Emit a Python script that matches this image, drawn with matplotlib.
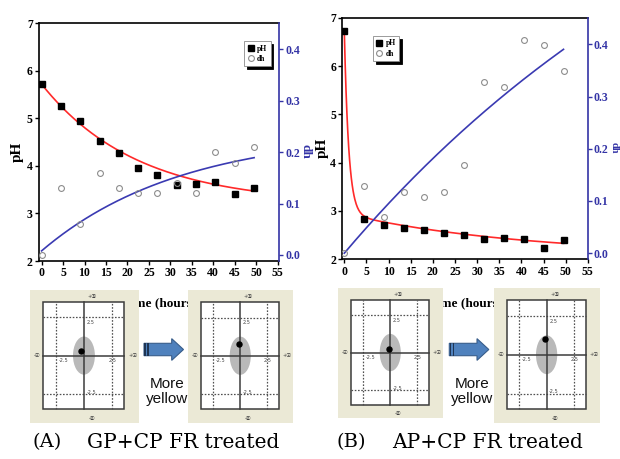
import numpy as np
import matplotlib
matplotlib.use('Agg')
import matplotlib.pyplot as plt
from matplotlib.patches import Rectangle, Ellipse, FancyArrow
from matplotlib import font_manager

# ---------------- data ----------------
time_h = [0, 4.5, 9, 13.5, 18, 22.5, 27, 31.5, 36, 40.5, 45, 49.5]
ph_A = [5.72, 5.25, 4.95, 4.52, 4.28, 3.96, 3.80, 3.59, 3.62, 3.66, 3.41, 3.54]
dh_A = [0.000, 0.130, 0.060, 0.160, 0.130, 0.120, 0.120, 0.141, 0.120, 0.200, 0.180, 0.211]
ph_B = [6.72, 2.83, 2.72, 2.65, 2.60, 2.55, 2.51, 2.42, 2.44, 2.43, 2.23, 2.40]
dh_B = [0.000, 0.129, 0.069, 0.118, 0.108, 0.118, 0.168, 0.328, 0.318, 0.408, 0.398, 0.348]

x_ticks = [0, 5, 10, 15, 20, 25, 30, 35, 40, 45, 50, 55]
ph_ticks = [2, 3, 4, 5, 6, 7]
dh_ticks = [0.0, 0.1, 0.2, 0.3, 0.4]
dh_ticklabels = ['0.0', '0.1', '0.2', '0.3', '0.4']

# fitted model parameters (as drawn in the figure)
fit_ph_A = (3.2, 2.52, 22.2)            # A + B*exp(-t/tau)
fit_dh_A = (0.008, 0.232, 32.5)          # c + D*(1-exp(-t/tau))
fit_ph_B = (2.072, 3.78, 1.0, 0.869, 40.8)  # A + B*exp(-t/t1) + C*exp(-t/t2)
fit_dh_B = (0.0, 1.0, 100.0)             # c + D*(1-exp(-t/tau))

# CIELab a*/b* colour point, before / after treatment
lab_a_A = [-0.23, -0.09]
lab_b_A = [0.28, 0.77]
lab_a_B = [-0.15, -0.15]
lab_b_B = [0.24, 1.01]

cap_tag = ['(A)', '(B)']
cap_text = ['GP+CP FR treated', 'AP+CP FR treated']

# ---------------- style ----------------
W, H = 620, 459
RED = '#ff2a2a'
BLUE = '#3a3ab2'
BLUE_AX = '#3434a6'
BEIGE = '#ebe9d6'
SERIF = ['Liberation Serif', 'DejaVu Serif']
plt.rcParams['font.family'] = SERIF
plt.rcParams['font.weight'] = 'bold'
plt.rcParams['axes.labelweight'] = 'bold'


def has_font(name):
    try:
        font_manager.findfont(font_manager.FontProperties(family=name),
                              fallback_to_default=False)
        return True
    except Exception:
        return False


NARROW = has_font('Liberation Sans Narrow')


def fbox(x0, y0, x1, y1):
    return [x0 / W, 1 - y1 / H, (x1 - x0) / W, (y1 - y0) / H]


def fpt(x, y):
    return (x / W, 1 - y / H)


fig = plt.figure(figsize=(6.2, 4.59), dpi=100)
fig.patch.set_facecolor('white')

t = np.linspace(0, 49.5, 500)


def ph_model_A(tt):
    a, b, tau = fit_ph_A
    return a + b * np.exp(-tt / tau)


def dh_model_A(tt):
    c, d, tau = fit_dh_A
    return c + d * (1 - np.exp(-tt / tau))


def ph_model_B(tt):
    a, b, t1, c, t2 = fit_ph_B
    return a + b * np.exp(-tt / t1) + c * np.exp(-tt / t2)


def dh_model_B(tt):
    c, d, tau = fit_dh_B
    return c + d * (1 - np.exp(-tt / tau))


def panel(rect, ph, dh, phf, dhf, xlim, leg_kw, lab, dh_fs, rpad):
    ax = fig.add_axes(rect)
    ax2 = ax.twinx()
    ax.plot(t, phf(t), color=RED, lw=1.2, zorder=2)
    hp, = ax.plot(time_h, ph, 's', color='black', ms=4, zorder=3)
    ax2.plot(t, dhf(t), color=BLUE, lw=1.2, zorder=2)
    hd, = ax2.plot(time_h, dh, 'o', mfc='none', mec='#8c8c8c', mew=0.8, ms=4.2, zorder=3)

    ax.set_xlim(*xlim)
    ax.set_ylim(2, 7)
    ax2.set_ylim(-0.0117, 0.451)
    ax.set_xticks(x_ticks)
    ax.set_yticks(ph_ticks)
    ax2.set_yticks(dh_ticks)
    ax2.set_yticklabels(dh_ticklabels)

    ax.tick_params(direction='out', length=3, width=1, labelsize=8.5, pad=1.5)
    ax2.tick_params(axis='y', direction='out', length=3, width=1, labelsize=8.5,
                    pad=rpad, colors=BLUE_AX)
    for lbl in ax.get_xticklabels() + ax.get_yticklabels() + ax2.get_yticklabels():
        lbl.set_fontweight('bold')

    for s in ['left', 'bottom', 'top']:
        ax.spines[s].set_linewidth(1.2)
    ax.spines['right'].set_visible(False)
    for s in ['left', 'bottom', 'top']:
        ax2.spines[s].set_visible(False)
    ax2.spines['right'].set_color(BLUE_AX)
    ax2.spines['right'].set_linewidth(1.2)

    ax.set_ylabel('pH', fontsize=11, fontweight='bold', va='center')
    ax.yaxis.set_label_coords(lab[0], 0.46)
    ax2.set_ylabel('dh', fontsize=dh_fs, fontweight='bold', color=BLUE_AX, rotation=270,
                   va='center')
    ax2.yaxis.set_label_coords(lab[1], 0.46)
    ax.set_xlabel('Time (hours)', fontsize=9.5, fontweight='bold')
    ax.xaxis.set_label_coords(0.5, lab[2])

    leg = ax2.legend([hp, hd], ['pH', 'dh'], fontsize=5.5, frameon=True,
                     fancybox=False, shadow={'color': 'black', 'alpha': 1.0},
                     handlelength=0.7, handletextpad=0.5, borderpad=0.45,
                     labelspacing=0.3, borderaxespad=0, **leg_kw)
    leg.get_frame().set_edgecolor('#8a8a8a')
    leg.get_frame().set_linewidth(0.6)
    return ax, ax2


panel(fbox(39, 23.3, 279, 261), ph_A, dh_A, ph_model_A, dh_model_A, (-0.6, 55.3),
      dict(loc='upper right', bbox_to_anchor=(0.965, 0.925)), (-0.092, 1.11, -0.151),
      9.5, 1.5)
panel(fbox(342.3, 17.7, 588.3, 259.3), ph_B, dh_B, ph_model_B, dh_model_B, (-0.45, 55.1),
      dict(loc='upper left', bbox_to_anchor=(0.125, 0.925)), (-0.082, 1.1045, -0.156),
      7.5, 1.0)

# ---------------- CIELab insets ----------------
SYM = ['DejaVu Sans', 'Noto Sans CJK JP']
GR = '#3c3c3c'


def inset(box, a_pt, b_pt):
    axi = fig.add_axes(fbox(*box))
    axi.set_xlim(-4.8, 4.9)
    axi.set_ylim(-4.4, 4.3)
    axi.set_facecolor(BEIGE)
    axi.set_xticks([])
    axi.set_yticks([])
    for s in axi.spines.values():
        s.set_visible(False)
    axi.add_patch(Rectangle((-3.6, -3.5), 7.2, 7.0, fc='white', ec=GR, lw=1.1, zorder=1))
    for v in (-2.5, 2.5):
        axi.plot([v, v], [-3.5, 3.5], ls=(0, (1.3, 1.3)), color='#505050', lw=0.9, zorder=2)
        axi.plot([-3.6, 3.6], [v, v], ls=(0, (1.3, 1.3)), color='#505050', lw=0.9, zorder=2)
    axi.add_patch(Ellipse((0, 0), 1.95, 2.5, fc='#b9b9b9', ec='none', zorder=2.5))
    axi.plot([-3.6, 3.6], [0, 0], color=GR, lw=1.1, zorder=3)
    axi.plot([0, 0], [-3.5, 3.5], color=GR, lw=1.1, zorder=3)
    axi.plot([a_pt], [b_pt], 'o', color='black', ms=3.6, zorder=4)
    kw = dict(fontsize=3.6, color='#444444', family=SYM, fontweight='normal',
              ha='center', va='center', zorder=5)
    axi.text(0.75, 3.88, '+ⓑ', **kw)
    axi.text(0.75, -4.1, '-ⓑ', **kw)
    axi.text(-4.2, 0.0, '-ⓐ', **kw)
    axi.text(4.35, 0.0, '+ⓐ', **kw)
    axi.text(0.6, 2.15, '2.5', **kw)
    axi.text(-1.8, -0.3, '-2.5', **kw)
    axi.text(2.55, -0.3, '2.5', **kw)
    axi.text(0.67, -2.4, '-2.5', **kw)
    return axi


inset((30, 290, 139, 422.7), lab_a_A[0], lab_b_A[0])
inset((188.3, 290, 293.3, 423), lab_a_A[1], lab_b_A[1])
inset((338.3, 288.3, 443.3, 418.3), lab_a_B[0], lab_b_B[0])
inset((494.3, 288, 600, 423), lab_a_B[1], lab_b_B[1])

# ---------------- arrows and "More yellow" ----------------
for x0 in (144, 449.3):
    x1 = x0 + 39.5
    yc = 349.5
    arr = FancyArrow(x0 / W, 1 - yc / H, (x1 - x0) / W, 0, width=12.4 / H,
                     head_width=21.7 / H, head_length=11.8 / W,
                     length_includes_head=True, fc='#4f81bd', ec='#385d8a', lw=0.8,
                     transform=fig.transFigure)
    fig.add_artist(arr)
    for sx in (x0 + 0.3, x0 + 3.3):
        fig.add_artist(Rectangle(fpt(sx, 355.7), 1.8 / W, 12.4 / H, fc='#1f3554',
                                 ec='none', transform=fig.transFigure))
    xm = x0 + 22.7
    if NARROW:
        tkw = dict(family=['Liberation Sans Narrow', 'DejaVu Sans'], fontsize=13)
    else:
        tkw = dict(family=['Liberation Sans', 'DejaVu Sans'], fontsize=11)
    fig.text(*fpt(xm, 388.3), 'More', ha='center', va='baseline', fontweight='normal',
             color='#111111', **tkw)
    fig.text(*fpt(xm, 403.3), 'yellow', ha='center', va='baseline', fontweight='normal',
             color='#111111', **tkw)

# ---------------- captions ----------------
CAP = ['DejaVu Serif']
for tag, txt, xt, xx in zip(cap_tag, cap_text, (32, 336.7), (86.7, 391.7)):
    fig.text(*fpt(xt, 447.5), tag, ha='left', va='baseline', fontsize=14,
             family=CAP, fontweight='normal', color='black')
    fig.text(*fpt(xx, 447.5), txt, ha='left', va='baseline', fontsize=14.5,
             family=CAP, fontweight='normal', color='black')

fig.savefig('out.png', dpi=100, facecolor='white')
